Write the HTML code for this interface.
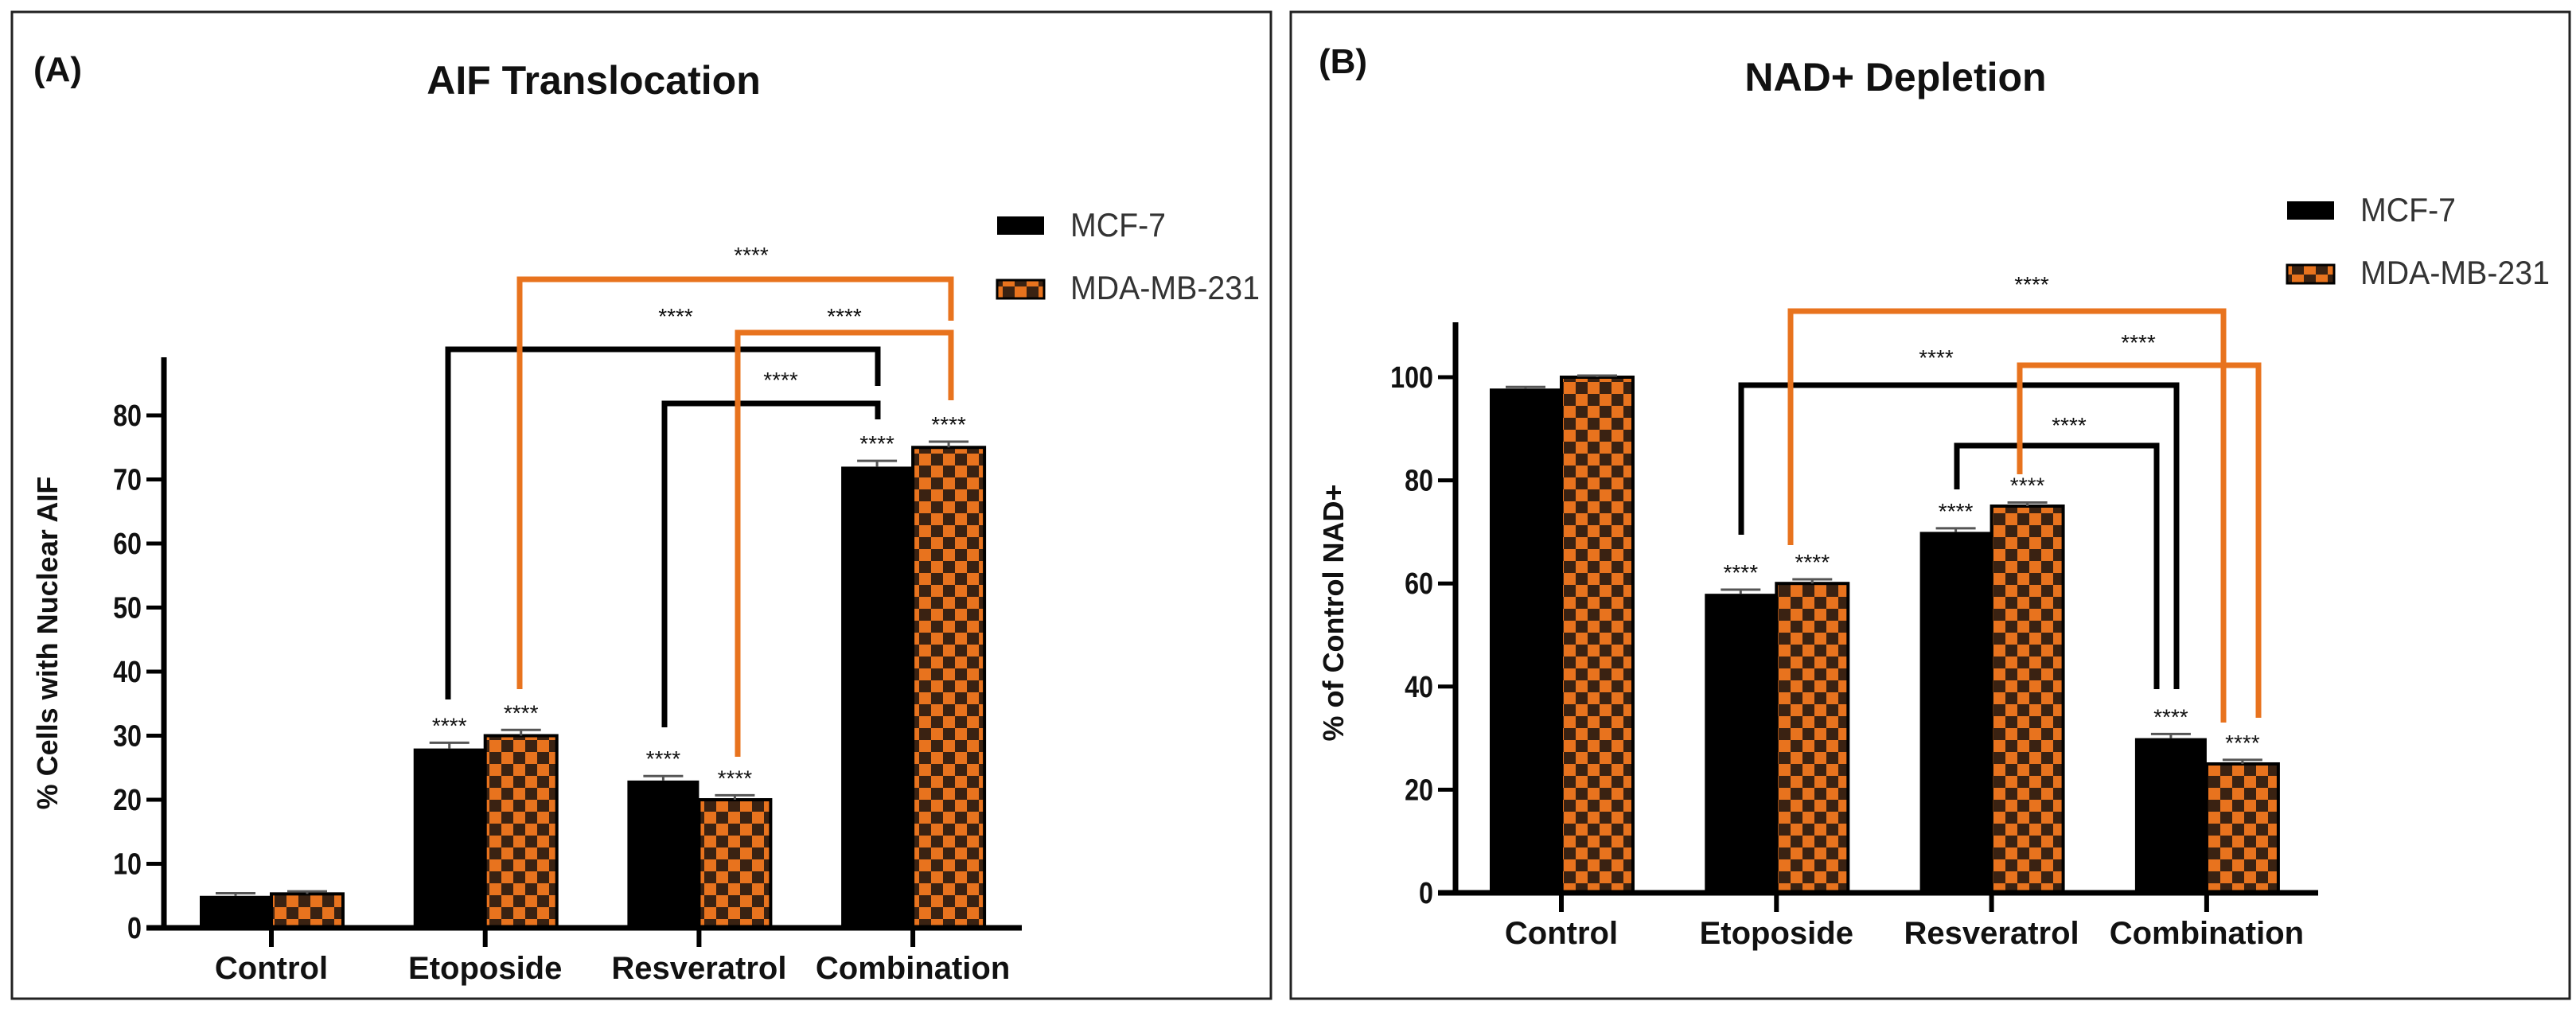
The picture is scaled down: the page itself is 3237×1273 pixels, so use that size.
<!DOCTYPE html>
<html><head><meta charset="utf-8">
<style>
html,body{margin:0;padding:0;background:#fff;}
svg{display:block;}
text{font-family:"Liberation Sans",sans-serif;}
</style></head>
<body>
<svg id="root" width="3237" height="1273" viewBox="0 0 3237 1273" xmlns="http://www.w3.org/2000/svg">
<defs>
<pattern id="chk" patternUnits="userSpaceOnUse" width="30" height="30">
<rect width="30" height="30" fill="#e8731e"/>
<rect width="15" height="15" fill="#3a2212"/>
<rect x="15" y="15" width="15" height="15" fill="#3a2212"/>
</pattern>
</defs>
</svg>
<script>
const categories = ["Control","Etoposide","Resveratrol","Combination"];
const seriesNames = ["MCF-7","MDA-MB-231"];
const aifMcf = [5, 28, 23, 72];
const aifMda = [5.3, 30, 20, 75];
const aifErr = [0.4, 0.9, 0.7, 0.9];
const aifTicks = [0,10,20,30,40,50,60,70,80];
const nadMcf = [97.8, 58, 70, 30];
const nadMda = [100, 60, 75, 25];
const nadErr = [0.3, 0.8, 0.7, 0.8];
const nadTicks = [0,20,40,60,80,100];
const aifStars = [false,true,true,true];
const nadStars = [false,true,true,true];

const NS="http://www.w3.org/2000/svg";
const root=document.getElementById('root');
function mk(tag,attrs,parent,text){const e=document.createElementNS(NS,tag);for(const k in attrs)e.setAttribute(k,attrs[k]);if(text!==undefined)e.textContent=text;(parent||root).appendChild(e);return e;}

function panel(cfg){
  const g=mk('g',{});
  
  
  const border=mk('rect',{x:cfg.bx,y:15,width:cfg.bw,height:1240,fill:'none',stroke:'#222','stroke-width':3},g);
  
  
  const lab=mk('text',{x:cfg.lx,y:cfg.ly,'font-size':44,'font-weight':'bold',fill:'#111'},g,cfg.letter);
  
  
  const t=mk('text',{x:cfg.tx,y:cfg.ty,'font-size':50,'font-weight':'bold','text-anchor':'middle',fill:'#111'},g,cfg.title);
  
  
  const y=v=>cfg.base-(v/cfg.maxV)*(cfg.base-cfg.topV);
  // y axis
  const ax=mk('line',{x1:cfg.ax,y1:cfg.axTop,x2:cfg.ax,y2:cfg.base+3,stroke:'#000','stroke-width':7},g);
  
  
  cfg.ticks.forEach(v=>{
    const tl=mk('line',{x1:cfg.ax-22,y1:y(v),x2:cfg.ax,y2:y(v),stroke:'#000','stroke-width':5},g);
    
    
    const tx=mk('text',{x:cfg.ax-28,y:y(v)+13,'font-size':38,'font-weight':'bold','text-anchor':'end',fill:'#111',transform:`translate(${cfg.ax-28},0) scale(0.85,1) translate(${-(cfg.ax-28)},0)`},g,String(v));
    
    
  });
  const yl=mk('text',{x:0,y:0,'font-size':36,'font-weight':'bold','text-anchor':'middle',fill:'#111',transform:`translate(${cfg.ylx},${cfg.yly}) rotate(-90)`},g,cfg.ylabel);
  
  
  // bars
  const bw=cfg.bw2;
  categories.forEach((c,i)=>{
    const cx=cfg.cx0+i*cfg.step;
    [[cfg.mcf,'#000'],[cfg.mda,'url(#chk)']].forEach(([arr,fill],s)=>{
      const v=arr[i];const x0=s===0?cx-bw:cx;
      const r=mk('rect',{x:x0,y:y(v),width:bw,height:cfg.base-y(v),fill:fill,stroke:'#000','stroke-width':s?4:0},g);
      
      
      const bc=x0+bw/2, et=y(v+cfg.err[i]);
      const eb=mk('path',{d:`M${bc} ${y(v)} V${et} M${bc-25} ${et} H${bc+25}`,stroke:'#555','stroke-width':3,fill:'none'},g);
      
      
      if(cfg.stars[i]){
        const st=mk('text',{x:bc,y:et-12,'font-size':28,'text-anchor':'middle',fill:'#111'},g,'****');
        
        
      }
    });
    const tk=mk('line',{x1:cx,y1:cfg.base,x2:cx,y2:cfg.base+24,stroke:'#000','stroke-width':6},g);
    
    
    const cl=mk('text',{x:cx,y:cfg.base+64,'font-size':40,'font-weight':'bold','text-anchor':'middle',fill:'#111'},g,c);
    
    
  });
  const xa=mk('line',{x1:cfg.ax-22,y1:cfg.base,x2:cfg.axEnd,y2:cfg.base,stroke:'#000','stroke-width':7},g);
  
  
  // brackets
  cfg.brackets.forEach(b=>{
    const p=mk('path',{d:`M${b[0]} ${b[1]} V${b[2]} H${b[3]} V${b[4]}`,fill:'none',stroke:b[7],'stroke-width':7},g);
    
    
    const s=mk('text',{x:b[5],y:b[6]+10,'font-size':28,'text-anchor':'middle',fill:'#111'},g,'****');
    
    
  });
  // legend
  const l1=mk('rect',{x:cfg.legX,y:cfg.legY,width:59,height:23,fill:'#000'},g);
  
  
  const lt1=mk('text',{x:cfg.legX+92,y:cfg.legY+25,'font-size':42,fill:'#333',textLength:120,lengthAdjust:'spacingAndGlyphs'},g,seriesNames[0]);
  
  
  const l2=mk('rect',{x:cfg.legX,y:cfg.legY+80,width:59,height:23,fill:'url(#chk)',stroke:'#000','stroke-width':3},g);
  
  
  const lt2=mk('text',{x:cfg.legX+92,y:cfg.legY+104,'font-size':42,fill:'#333',textLength:238,lengthAdjust:'spacingAndGlyphs'},g,seriesNames[1]);
  
  
}

panel({name:'panel-a-aif-translocation',bx:15,bw:1582,letter:'(A)',lx:42,ly:102,title:'AIF Translocation',tx:746,ty:118,
  ax:206,axTop:449,base:1166,topV:522,maxV:80,axEnd:1284,ticks:aifTicks,ylabel:'% Cells with Nuclear AIF',ylx:72,yly:808,
  cx0:341,step:268.7,bw2:90,mcf:aifMcf,mda:aifMda,err:aifErr,stars:aifStars,legX:1253,legY:272,
  brackets:[[563,879,439,1103,485,849,397,'#000'],[835,914,507,1103,527,981,477,'#000'],
            [653,866,351,1195,403,944,320,'#e8731e'],[927,951,418,1195,503,1061,397,'#e8731e']]});
panel({name:'panel-b-nad-depletion',bx:1622,bw:1607,letter:'(B)',lx:1657,ly:92,title:'NAD+ Depletion',tx:2382,ty:114,
  ax:1829,axTop:405,base:1122,topV:474,maxV:100,axEnd:2913,ticks:nadTicks,ylabel:'% of Control NAD+',ylx:1688,yly:770,
  cx0:1962,step:270.3,bw2:90,mcf:nadMcf,mda:nadMda,err:nadErr,stars:nadStars,legX:2874,legY:253,
  brackets:[[2188,672,484,2735,866,2433,449,'#000'],[2459,615,560,2710,866,2600,534,'#000'],
            [2250,685,391,2794,908,2553,357,'#e8731e'],[2538,596,459,2838,902,2687,430,'#e8731e']]});
</script>
</body></html>
